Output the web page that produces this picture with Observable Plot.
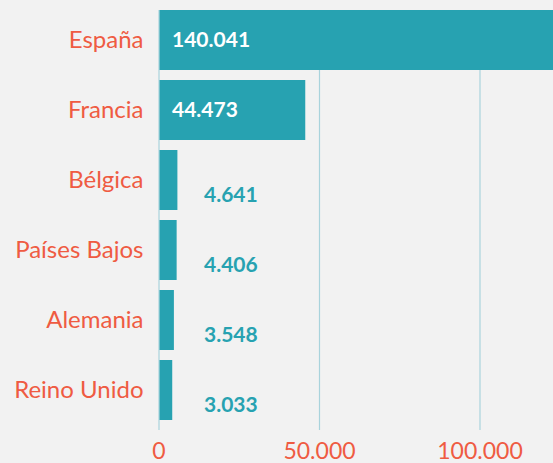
<!DOCTYPE html>
<html>
<head>
<meta charset="utf-8">
<script src="https://cdn.jsdelivr.net/npm/d3@7"></script>
<script src="https://cdn.jsdelivr.net/npm/@observablehq/plot@0.6"></script>
<style>
  html, body { margin: 0; padding: 0; background: #f2f2f2; }
  #chart svg { display: block; background: #f2f2f2; }
</style>
</head>
<body>
<div id="chart"></div>
<script>
const countries = ["España", "Francia", "Bélgica", "Países Bajos", "Alemania", "Reino Unido"];
const values = [140041, 44473, 4641, 4406, 3548, 3033];
const xTicks = [0, 50000, 100000];

const TEAL = "#27a2b1";
const CORAL = "#ef5b42";
const GRID = "#a9d3dc";

const fmt = d3.formatLocale({decimal: ",", thousands: ".", grouping: [3], currency: ["", "€"]}).format(",");
const data = countries.map((c, i) => ({country: c, value: values[i], inside: values[i] > 20000}));

const chart = Plot.plot({
  width: 553,
  height: 463,
  marginLeft: 158,
  marginRight: 0,
  marginTop: 10,
  marginBottom: 33,
  style: {background: "#f2f2f2", fontFamily: "Lato, sans-serif", overflow: "hidden"},
  x: {domain: [0, 150000], range: [158.5, 640], ticks: xTicks, tickFormat: fmt, label: null, grid: false},
  y: {domain: countries, range: [10, 420], paddingInner: 0.143, paddingOuter: 0, label: null},
  marks: [
    Plot.ruleX(xTicks, {stroke: GRID, strokeWidth: 1.2, strokeOpacity: 1}),
    Plot.barX(data, {x: "value", y: "country", fill: TEAL, insetLeft: 1, insetRight: -4}),
    Plot.text(data.filter(d => d.inside), {x: () => 0, y: "country", text: d => fmt(d.value), fill: "white", textAnchor: "start", dx: 13, fontSize: 21, fontWeight: 700}),
    Plot.text(data.filter(d => !d.inside), {x: () => 0, y: "country", text: d => fmt(d.value), fill: TEAL, textAnchor: "start", dx: 45, dy: 15, fontSize: 21, fontWeight: 700}),
    Plot.axisY({tickSize: 0, tickPadding: 15, fontSize: 24, color: CORAL, label: null}),
    Plot.axisX({ticks: xTicks, tickFormat: fmt, tickSize: 0, tickPadding: 12, fontSize: 23, color: CORAL, label: null})
  ]
});
document.getElementById("chart").appendChild(chart);
</script>
</body>
</html>
